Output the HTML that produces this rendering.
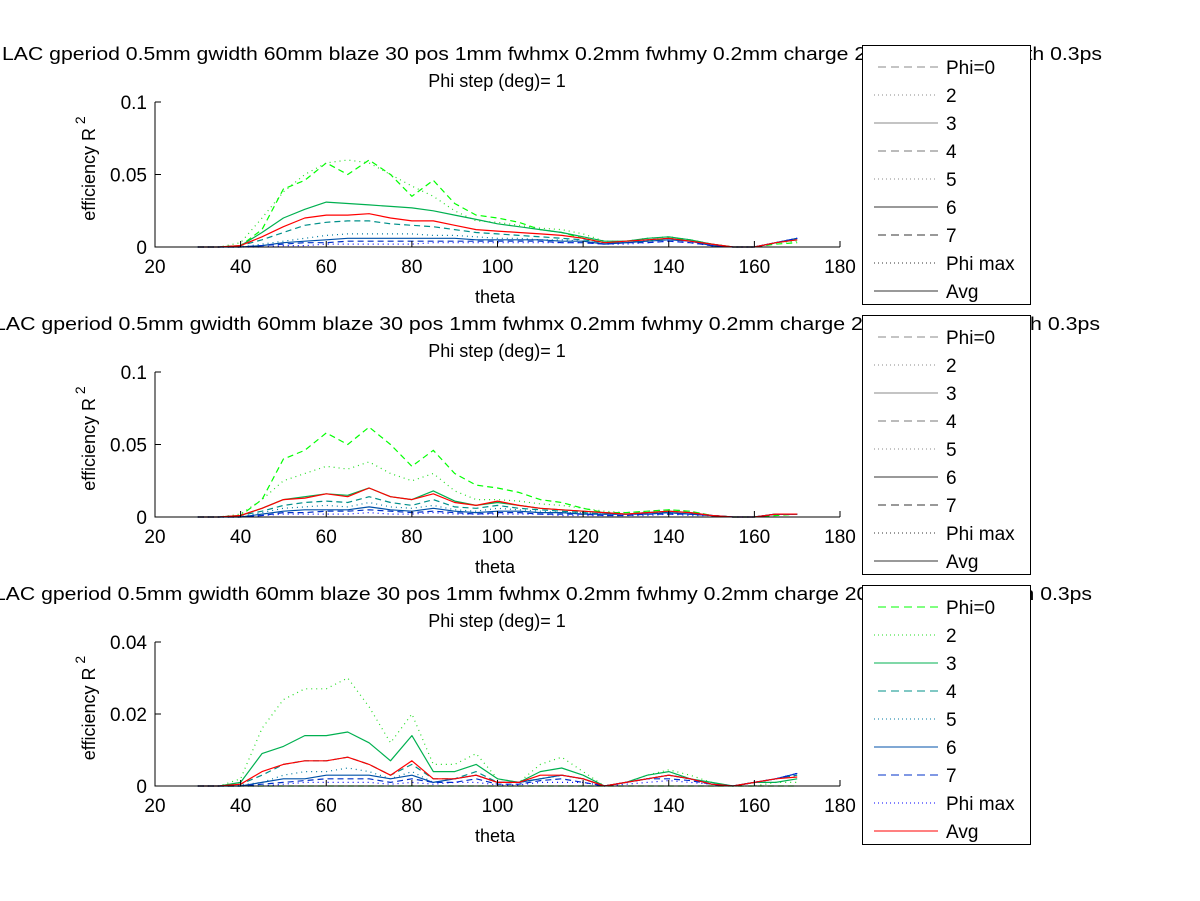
<!DOCTYPE html>
<html><head><meta charset="utf-8"><style>
body{margin:0;background:#fff;}
svg{display:block;font-family:"Liberation Sans",sans-serif;}
</style></head><body>
<svg id="fig" width="1200" height="901" viewBox="0 0 1200 901" xmlns="http://www.w3.org/2000/svg">
<rect width="1200" height="901" fill="#fff"/>
</svg>
<script>
const theta=[30,35,40,45,50,55,60,65,70,75,80,85,90,95,100,105,110,115,120,125,130,135,140,145,150,155,160,165,170];
const seriesNames=["Phi=0","2","3","4","5","6","7","Phi max","Avg"];
const xTicks=[20,40,60,80,100,120,140,160,180];
const p1=[
[0,0,0.001,0.012,0.04,0.046,0.058,0.05,0.06,0.05,0.035,0.046,0.03,0.022,0.02,0.017,0.012,0.01,0.006,0.003,0.003,0.004,0.006,0.005,0.002,0,0,0.002,0.003],
[0,0,0.003,0.02,0.038,0.05,0.058,0.06,0.058,0.05,0.042,0.035,0.025,0.018,0.017,0.015,0.013,0.012,0.009,0.004,0.004,0.006,0.007,0.005,0.002,0,0,0.003,0.004],
[0,0,0.001,0.01,0.02,0.026,0.031,0.03,0.029,0.028,0.027,0.025,0.022,0.019,0.016,0.014,0.012,0.01,0.007,0.004,0.004,0.006,0.007,0.005,0.002,0,0,0.003,0.005],
[0,0,0.001,0.005,0.01,0.015,0.017,0.018,0.018,0.016,0.015,0.014,0.012,0.01,0.009,0.008,0.007,0.006,0.005,0.003,0.003,0.005,0.006,0.004,0.002,0,0,0.003,0.006],
[0,0,0,0.002,0.004,0.006,0.008,0.009,0.009,0.009,0.009,0.008,0.008,0.007,0.006,0.006,0.005,0.005,0.004,0.003,0.003,0.004,0.005,0.004,0.002,0,0,0.003,0.006],
[0,0,0,0.001,0.003,0.004,0.005,0.006,0.006,0.006,0.006,0.006,0.006,0.005,0.005,0.005,0.005,0.004,0.004,0.002,0.003,0.004,0.005,0.004,0.001,0,0,0.003,0.006],
[0,0,0,0.001,0.002,0.003,0.003,0.004,0.004,0.004,0.004,0.004,0.004,0.004,0.004,0.004,0.004,0.003,0.003,0.002,0.003,0.003,0.004,0.003,0.001,0,0,0.003,0.006],
[0,0,0,0,0.001,0.001,0.002,0.002,0.002,0.002,0.002,0.003,0.003,0.003,0.003,0.003,0.003,0.003,0.003,0.002,0.002,0.003,0.004,0.003,0.001,0,0,0.003,0.006],
[0,0,0.001,0.007,0.014,0.02,0.022,0.022,0.023,0.02,0.018,0.018,0.015,0.012,0.011,0.01,0.009,0.008,0.006,0.003,0.004,0.005,0.006,0.004,0.002,0,0,0.003,0.005]];
const p2=[
[0,0,0.001,0.012,0.04,0.046,0.058,0.05,0.062,0.05,0.035,0.046,0.03,0.022,0.02,0.017,0.012,0.01,0.006,0.003,0.003,0.004,0.005,0.004,0.001,0,0,0.001,0.002],
[0,0,0.002,0.012,0.025,0.03,0.035,0.033,0.038,0.03,0.025,0.03,0.018,0.012,0.012,0.011,0.009,0.008,0.006,0.004,0.003,0.004,0.005,0.004,0.001,0,0,0.002,0.002],
[0,0,0.001,0.006,0.012,0.014,0.016,0.015,0.02,0.014,0.012,0.018,0.011,0.008,0.01,0.008,0.006,0.005,0.004,0.003,0.002,0.003,0.004,0.003,0.001,0,0,0.002,0.002],
[0,0,0.001,0.004,0.008,0.01,0.011,0.01,0.014,0.01,0.008,0.012,0.007,0.006,0.008,0.006,0.005,0.004,0.003,0.002,0.002,0.003,0.003,0.002,0.001,0,0,0.002,0.002],
[0,0,0,0.003,0.006,0.007,0.008,0.007,0.01,0.007,0.006,0.008,0.005,0.004,0.006,0.005,0.004,0.003,0.003,0.002,0.002,0.002,0.003,0.002,0.001,0,0,0.002,0.002],
[0,0,0,0.002,0.004,0.005,0.005,0.005,0.007,0.005,0.004,0.006,0.004,0.003,0.004,0.004,0.003,0.003,0.002,0.002,0.002,0.002,0.003,0.002,0.001,0,0,0.002,0.002],
[0,0,0,0.001,0.003,0.003,0.004,0.004,0.005,0.004,0.003,0.004,0.003,0.002,0.003,0.003,0.002,0.002,0.002,0.001,0.001,0.002,0.002,0.002,0.001,0,0,0.002,0.002],
[0,0,0,0.001,0.002,0.002,0.002,0.002,0.003,0.002,0.002,0.003,0.002,0.002,0.002,0.002,0.002,0.001,0.001,0.001,0.001,0.001,0.002,0.001,0.001,0,0,0.002,0.002],
[0,0,0.001,0.006,0.012,0.013,0.016,0.014,0.02,0.014,0.012,0.016,0.01,0.008,0.011,0.008,0.006,0.005,0.004,0.003,0.002,0.003,0.004,0.003,0.001,0,0,0.002,0.002]];
const p3=[
[0,0,0,0,0,0,0,0,0,0,0,0,0,0,0,0,0,0,0,0,0,0,0,0,0,0,0,0,0],
[0,0,0.002,0.016,0.024,0.027,0.027,0.03,0.022,0.012,0.02,0.006,0.006,0.009,0.002,0.001,0.006,0.008,0.004,0,0.001,0.003,0.0045,0.003,0.001,0,0,0.001,0.001],
[0,0,0.001,0.009,0.011,0.014,0.014,0.015,0.012,0.007,0.014,0.004,0.004,0.006,0.002,0.001,0.004,0.005,0.003,0,0.001,0.003,0.004,0.002,0.001,0,0.001,0.001,0.002],
[0,0,0.0005,0.003,0.006,0.007,0.007,0.008,0.006,0.003,0.006,0.002,0.002,0.004,0.001,0.001,0.002,0.003,0.002,0,0.001,0.002,0.003,0.002,0.0005,0,0.001,0.002,0.003],
[0,0,0.0003,0.001,0.003,0.004,0.004,0.005,0.004,0.002,0.004,0.001,0.002,0.003,0.001,0.001,0.002,0.003,0.002,0,0.001,0.002,0.003,0.002,0.0005,0,0.001,0.002,0.003],
[0,0,0,0.001,0.002,0.002,0.003,0.003,0.003,0.002,0.003,0.001,0.002,0.003,0.001,0.001,0.002,0.003,0.002,0,0.001,0.002,0.003,0.002,0.0005,0,0.001,0.002,0.0035],
[0,0,0,0.0005,0.001,0.0015,0.002,0.002,0.002,0.001,0.002,0.001,0.001,0.002,0.0005,0.0005,0.0015,0.002,0.001,0,0.001,0.002,0.002,0.0015,0.0005,0,0.001,0.002,0.0035],
[0,0,0,0,0.0005,0.001,0.001,0.001,0.001,0.0005,0.001,0.0005,0.001,0.001,0.0003,0.0003,0.001,0.001,0.001,0,0.0005,0.001,0.0015,0.001,0.0005,0,0.001,0.002,0.0035],
[0,0,0.0005,0.004,0.006,0.007,0.007,0.008,0.006,0.003,0.007,0.002,0.002,0.003,0.001,0.001,0.003,0.003,0.002,0,0.001,0.002,0.003,0.002,0.0005,0,0.001,0.002,0.0025]];
const yTicks1=[0,0.05,0.1], yTicks3=[0,0.02,0.04];

const NS="http://www.w3.org/2000/svg";
const svg=document.getElementById('fig');
function mk(tag,attrs,parent){const e=document.createElementNS(NS,tag);for(const k in attrs)e.setAttribute(k,attrs[k]);(parent||svg).appendChild(e);return e;}
const colors=["#00ff00","#22dd22","#00b050","#00908a","#007aa0","#0050a8","#0030c8","#0000ff","#ff0000"];
const dashes=["6,4","1,4","","6,4","1,4","","6,4","1,4",""];
const gray=["#888","#888","#888","#777","#888","#333","#333","#333","#333"];
const X0=155,X1=840;
function xs(t){return X0+(t-20)/160*(X1-X0);}
const titleL1="LAC gperiod 0.5mm gwidth 60mm blaze 30 pos 1mm fwhmx 0.2mm fwhmy 0.2mm charge 200pC bunch length 0.3ps";
const panels=[
 {data:p1,top:102,bot:247,ymax:0.1,ticks:yTicks1,tl:["0","0.05","0.1"],titleY:60,tS:2,tEnd:1102,leg:45,legColor:false},
 {data:p2,top:372,bot:517,ymax:0.1,ticks:yTicks1,tl:["0","0.05","0.1"],titleY:330,tS:-6,tEnd:1100,leg:315,legColor:false},
 {data:p3,top:642,bot:786,ymax:0.04,ticks:yTicks3,tl:["0","0.02","0.04"],titleY:600,tS:-6,tEnd:1092,leg:585,legColor:true}];
panels.forEach((P,pi)=>{
 const g=mk('g',{});
 
 
 const ys=v=>P.bot-v/P.ymax*(P.bot-P.top);
 let t=mk('text',{x:P.tS,y:P.titleY,'font-size':18,textLength:P.tEnd-P.tS,lengthAdjust:'spacingAndGlyphs'},g);t.textContent=titleL1;
 
 
 t=mk('text',{x:497,y:P.titleY+27,'text-anchor':'middle','font-size':18},g);t.textContent="Phi step (deg)= 1";
 
 
 P.data.forEach((arr,si)=>{
  let d="";arr.forEach((v,i)=>{d+=(i?"L":"M")+xs(theta[i]).toFixed(1)+","+ys(v).toFixed(1);});
  const p=mk('path',{d:d,fill:'none',stroke:colors[si],'stroke-width':1.2,'stroke-dasharray':dashes[si],'stroke-linejoin':'round'},g);
  
  
 });
 const ax=mk('path',{d:`M${X0},${P.top}V${P.bot}H${X1}`,fill:'none',stroke:'#000','stroke-width':1},g);
 
 
 xTicks.forEach(v=>{
  mk('line',{x1:xs(v),x2:xs(v),y1:P.bot,y2:P.bot-6,stroke:'#000'},g);
  const tx=mk('text',{x:xs(v),y:P.bot+26,'text-anchor':'middle','font-size':19},g);tx.textContent=v;
  
  
 });
 P.ticks.forEach((v,i)=>{
  mk('line',{x1:X0,x2:X0+6,y1:ys(v),y2:ys(v),stroke:'#000'},g);
  const tx=mk('text',{x:X0-8,y:ys(v)+7,'text-anchor':'end','font-size':19},g);tx.textContent=P.tl[i];
  
  
 });
 const xl=mk('text',{x:495,y:P.bot+56,'text-anchor':'middle','font-size':18},g);xl.textContent="theta";
 
 
 const cy=(P.top+P.bot)/2-6;
 const yl=mk('text',{x:0,y:0,'text-anchor':'middle','font-size':18,transform:`translate(95,${cy}) rotate(-90)`},g);
 yl.innerHTML='efficiency R<tspan dy="-10" font-size="14"> 2</tspan>';
 
 
 const lg=mk('g',{},g);
 
 
 mk('rect',{x:862.5,y:P.leg+0.5,width:168,height:259,fill:'#fff',stroke:'#000'},lg);
 seriesNames.forEach((n,si)=>{
  const y=P.leg+22+si*28;
  const c=P.legColor?colors[si]:gray[si];
  mk('line',{x1:si%3==0?878:874,x2:938,y1:y,y2:y,stroke:c,'stroke-width':0.9,'stroke-dasharray':dashes[si].replace("6,4","8,5").replace("1,4","1,3")},lg);
  const lt=mk('text',{x:946,y:y+7,'font-size':19},lg);lt.textContent=n;
  
  
 });
});
</script>
</body></html>
